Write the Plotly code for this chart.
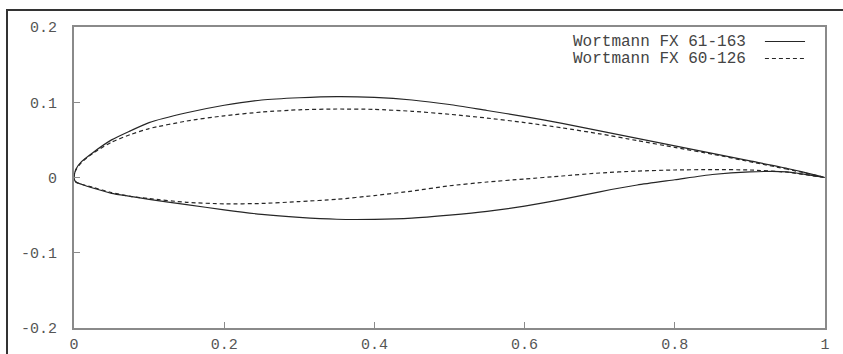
import plotly.graph_objects as go

# chord stations
x_st = [0, 0.0025, 0.01, 0.025, 0.05, 0.075, 0.1, 0.15, 0.2, 0.25, 0.3, 0.35, 0.4,
        0.45, 0.5, 0.55, 0.6, 0.65, 0.7, 0.75, 0.8, 0.85, 0.9, 0.95, 1.0]

# Wortmann FX 61-163
fx61_upper = [0, 0.011, 0.021, 0.033, 0.050, 0.062, 0.073, 0.086, 0.096, 0.103, 0.106,
              0.1075, 0.1065, 0.103, 0.097, 0.089, 0.081, 0.072, 0.062, 0.052, 0.042,
              0.032, 0.022, 0.012, 0.0]
fx61_lower = [0, -0.006, -0.009, -0.014, -0.021, -0.025, -0.029, -0.036, -0.043, -0.049,
              -0.053, -0.0555, -0.0556, -0.054, -0.050, -0.045, -0.038, -0.029, -0.019,
              -0.010, -0.003, 0.004, 0.0075, 0.0075, 0.0]

# Wortmann FX 60-126
fx60_upper = [0, 0.010, 0.020, 0.032, 0.047, 0.057, 0.065, 0.075, 0.082, 0.087, 0.090,
              0.091, 0.0905, 0.088, 0.084, 0.079, 0.073, 0.066, 0.058, 0.049, 0.040,
              0.031, 0.021, 0.011, 0.0]
fx60_lower = [0, -0.006, -0.009, -0.013, -0.020, -0.025, -0.028, -0.033, -0.035, -0.0345,
              -0.032, -0.029, -0.024, -0.018, -0.011, -0.006, -0.002, 0.002, 0.006,
              0.0085, 0.010, 0.0105, 0.010, 0.007, 0.0]

names = ["Wortmann FX 61-163", "Wortmann FX 60-126"]
x_ticks = [0, 0.2, 0.4, 0.6, 0.8, 1]
x_tick_text = ["0", "0.2", "0.4", "0.6", "0.8", "1"]
y_ticks = [-0.2, -0.1, 0, 0.1, 0.2]
y_tick_text = ["-0.2", "-0.1", "0", "0.1", "0.2"]

def closed(up, lo):
    xs = list(reversed(x_st)) + x_st[1:]
    ys = list(reversed(up)) + lo[1:]
    return xs, ys

fig = go.Figure()
dashes = ["solid", "4px,3px"]
for name, up, lo, d in [(names[0], fx61_upper, fx61_lower, dashes[0]),
                        (names[1], fx60_upper, fx60_lower, dashes[1])]:
    xs, ys = closed(up, lo)
    fig.add_trace(go.Scatter(x=xs, y=ys, mode="lines", name=name, showlegend=False,
                             line=dict(color="#262626", width=1.2, dash=d, shape="spline",
                                       smoothing=0.6)))

mono = "Liberation Mono, Courier New, monospace"
font = dict(family=mono, size=15, color="#555555")

fig.update_layout(
    width=843, height=354,
    margin=dict(l=74, r=18, t=27, b=26, autoexpand=False),
    paper_bgcolor="white", plot_bgcolor="white",
    font=font,
    xaxis=dict(range=[0, 1], tickvals=x_ticks, ticktext=x_tick_text, showgrid=False,
               zeroline=False, showline=True, mirror=True, linecolor="#8a8a8a", linewidth=2,
               ticks="inside", ticklen=6, tickcolor="#8a8a8a", ticklabelstandoff=1,
               automargin=False),
    yaxis=dict(range=[-0.2, 0.2], tickvals=y_ticks, ticktext=y_tick_text, showgrid=False,
               zeroline=False, showline=True, mirror=True, linecolor="#8a8a8a", linewidth=2,
               ticks="inside", ticklen=6, tickcolor="#8a8a8a", ticklabelstandoff=12,
               automargin=False),
)

# legend (text right-aligned with line samples on the right)
leg_y = [0.9518, 0.8953]
for name, yy, d in zip(names, leg_y, dashes):
    fig.add_annotation(xref="paper", yref="paper", x=0.8975, y=yy, text=name,
                       showarrow=False, xanchor="right", yanchor="middle",
                       font=dict(family=mono, size=16, color="#444444"))
    fig.add_shape(type="line", xref="paper", yref="paper", x0=0.920, x1=0.9734,
                  y0=yy, y1=yy, line=dict(color="#262626", width=1.2, dash=d))

# outer frame of the image (left & top edges) as a page decoration
frame_js = (
    "document.body.style.margin='0';document.body.style.overflow='hidden';"
    "var fr=document.createElement('div');"
    "fr.style.cssText='position:absolute;left:6px;top:9px;width:900px;height:400px;"
    "border-left:2px solid #333;border-top:2px solid #333;pointer-events:none;z-index:10;';"
    "document.body.appendChild(fr);"
)

fig.write_html("out.html", config={"displayModeBar": False}, post_script=frame_js)
